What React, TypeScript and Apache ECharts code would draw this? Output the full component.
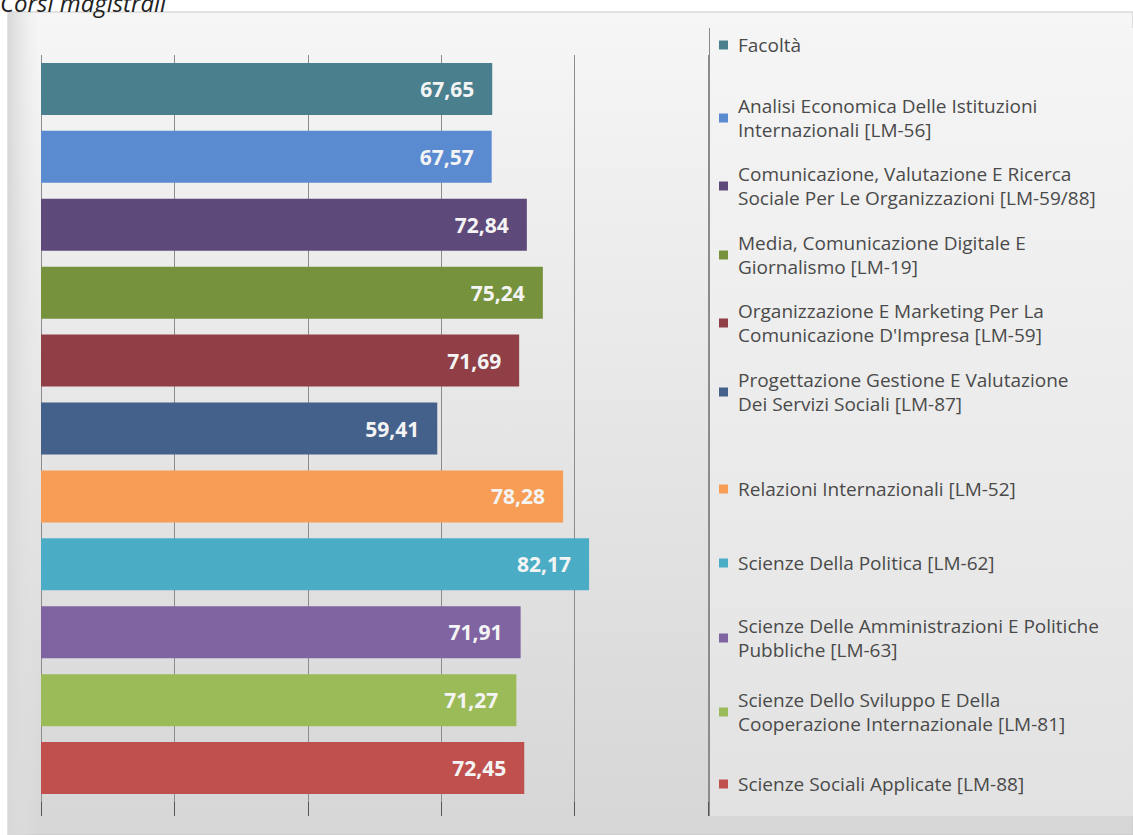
import React, { useEffect, useRef } from "react";
import * as echarts from "echarts";

const categories: string[] = [
  "Facoltà",
  "Analisi Economica Delle Istituzioni\nInternazionali [LM-56]",
  "Comunicazione, Valutazione E Ricerca\nSociale Per Le Organizzazioni [LM-59/88]",
  "Media, Comunicazione Digitale E\nGiornalismo [LM-19]",
  "Organizzazione E Marketing Per La\nComunicazione D'Impresa [LM-59]",
  "Progettazione Gestione E Valutazione\nDei Servizi Sociali [LM-87]",
  "Relazioni Internazionali [LM-52]",
  "Scienze Della Politica [LM-62]",
  "Scienze Delle Amministrazioni E Politiche\nPubbliche [LM-63]",
  "Scienze Dello Sviluppo E Della\nCooperazione Internazionale [LM-81]",
  "Scienze Sociali Applicate [LM-88]",
];

const values: number[] = [67.65, 67.57, 72.84, 75.24, 71.69, 59.41, 78.28, 82.17, 71.91, 71.27, 72.45];

const colors: string[] = [
  "#4a7f8e",
  "#5a8ad0",
  "#5e4a7a",
  "#76923c",
  "#8f3f45",
  "#44618c",
  "#f79d55",
  "#4bacc6",
  "#8064a2",
  "#9bbb59",
  "#c0504d",
];

// first-line centre of each legend entry
const legendLineY: number[] = [45, 118, 186, 255, 323, 392, 489, 563, 638, 712, 784];

const title = "Corsi magistrali";

export default function App() {
  const ref = useRef<HTMLDivElement>(null);

  useEffect(() => {
    if (!ref.current) return;
    const chart = echarts.init(ref.current, null, { renderer: "svg" });
    const LH = 24;
    const fontFamily = "'Open Sans', sans-serif";

    const series = categories.map((name, i) => ({
      name,
      type: "bar",
      stack: "all",
      barWidth: 52,
      itemStyle: { color: colors[i] },
      data: values.map((v, j) => (j === i ? v : "-")),
      label: {
        show: true,
        position: "insideRight",
        distance: 18,
        color: "#f4f4f4",
        fontSize: 21,
        fontWeight: "bold",
        fontFamily,
        formatter: (p: any) => String(p.value.toFixed(2)).replace(".", ","),
      },
    }));

    const legends = categories.map((name, i) => {
      const twoLine = name.includes("\n");
      return {
        data: [name],
        orient: "vertical",
        left: 719,
        top: twoLine ? legendLineY[i] - 1.5 * LH : legendLineY[i] - LH / 2,
        padding: 0,
        icon: "rect",
        itemWidth: 9,
        itemHeight: 9,
        selectedMode: false,
        textStyle: {
          color: "#4a4a4a",
          fontSize: 19,
          fontFamily,
          lineHeight: LH,
          padding: twoLine ? [LH, 0, 0, 5] : [0, 0, 0, 5],
        },
      };
    });

    chart.setOption({
      animation: false,
      backgroundColor: "#ffffff",
      graphic: [
        {
          type: "rect",
          z: -10,
          shape: { x: 8, y: 12, width: 1125, height: 823 },
          style: {
            fill: new echarts.graphic.LinearGradient(0, 0, 0, 1, [
              { offset: 0, color: "#f6f6f6" },
              { offset: 1, color: "#d6d6d6" },
            ]),
            stroke: "#c8c8c8",
            lineWidth: 1,
          },
        },
        {
          type: "rect",
          z: -9,
          shape: { x: 8, y: 12, width: 30, height: 823 },
          style: {
            fill: new echarts.graphic.LinearGradient(0, 0, 1, 0, [
              { offset: 0, color: "#d8d8d8" },
              { offset: 1, color: "rgba(230,230,230,0)" },
            ]),
          },
        },
        {
          type: "rect",
          z: -8,
          shape: { x: 709, y: 28, width: 424, height: 788 },
          style: {
            fill: new echarts.graphic.LinearGradient(0, 0, 0, 1, [
              { offset: 0, color: "#f5f5f5" },
              { offset: 1, color: "#e2e2e2" },
            ]),
          },
        },
        {
          type: "line",
          z: -7,
          shape: { x1: 709.5, y1: 28, x2: 709.5, y2: 816 },
          style: { stroke: "#8a8a8a", lineWidth: 1 },
        },
        {
          type: "text",
          z: 10,
          x: 0,
          y: 14,
          style: {
            text: title,
            fontSize: 24,
            fontStyle: "italic",
            fontFamily,
            fill: "#222222",
            verticalAlign: "bottom",
          },
        },
      ],
      grid: { left: 41, right: 425, top: 55, bottom: 33, containLabel: false },
      xAxis: {
        type: "value",
        min: 0,
        max: 100,
        interval: 20,
        axisLabel: { show: false },
        axisLine: { show: false },
        axisTick: { show: true, length: 14, lineStyle: { color: "#555555" } },
        splitLine: { show: true, lineStyle: { color: "#8c8c8c", width: 1 } },
      },
      yAxis: {
        type: "category",
        inverse: true,
        data: categories,
        axisLabel: { show: false },
        axisLine: { show: false },
        axisTick: { show: false },
      },
      legend: legends,
      series,
    });

    return () => chart.dispose();
  }, []);

  return (
    <div
      ref={ref}
      style={{ position: "fixed", left: 0, top: 0, width: 1133, height: 835 }}
    />
  );
}
